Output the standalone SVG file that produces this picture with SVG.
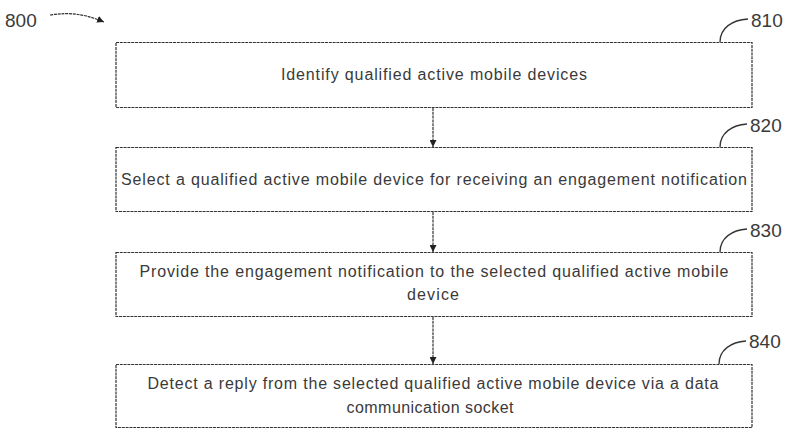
<svg xmlns="http://www.w3.org/2000/svg" width="788" height="429" viewBox="0 0 788 429">
<style>
.box{fill:#fff;stroke:#333;stroke-width:1.2;stroke-dasharray:3 0.8}
.t{font-family:"Liberation Sans",Arial,sans-serif;font-size:16px;fill:#3a3a3a;text-anchor:middle}
.lbl{font-family:"Liberation Sans",Arial,sans-serif;font-size:19px;fill:#3a3a3a}
.con{fill:none;stroke:#333;stroke-width:1.2;stroke-dasharray:3 0.8}
.lead{fill:none;stroke:#333;stroke-width:1.3}
</style>
<defs>
<marker id="ah" viewBox="0 0 10 10" refX="10" refY="5" markerWidth="7" markerHeight="7" orient="auto" markerUnits="userSpaceOnUse">
<path d="M0,0 L10,5 L0,10 z" fill="#222"/>
</marker>
</defs>
<g id="label800">
<text class="lbl" x="5" y="27">800</text>
<path class="con" d="M50,15 C70,12 85,14 104,22" marker-end="url(#ah)"/>
</g>
<g id="connectors">
<line class="con" x1="433" y1="108" x2="433" y2="147" marker-end="url(#ah)"/>
<line class="con" x1="433" y1="212" x2="433" y2="252" marker-end="url(#ah)"/>
<line class="con" x1="433" y1="317" x2="433" y2="364" marker-end="url(#ah)"/>
</g>
<g id="n810">
<rect class="box" x="116" y="42.5" width="636" height="65"/>
<text class="t" x="434" y="80" textLength="306" lengthAdjust="spacing">Identify qualified active mobile devices</text>
<path class="lead" d="M720,42 C720,28 732,20 748,19"/>
<text class="lbl" x="751" y="27">810</text>
</g>
<g id="n820">
<rect class="box" x="116" y="147.5" width="636" height="64"/>
<text class="t" x="434" y="185" textLength="626" lengthAdjust="spacing">Select a qualified active mobile device for receiving an engagement notification</text>
<path class="lead" d="M720,147 C720,133 732,125 747,124"/>
<text class="lbl" x="750" y="132">820</text>
</g>
<g id="n830">
<rect class="box" x="116" y="252.5" width="636" height="64"/>
<text class="t" x="434" y="277" textLength="589" lengthAdjust="spacing">Provide the engagement notification to the selected qualified active mobile</text>
<text class="t" x="433" y="300" textLength="52" lengthAdjust="spacing">device</text>
<path class="lead" d="M720,252 C720,238 732,230 747,229"/>
<text class="lbl" x="750" y="237">830</text>
</g>
<g id="n840">
<rect class="box" x="116" y="364.5" width="636" height="63"/>
<text class="t" x="433" y="389" textLength="571" lengthAdjust="spacing">Detect a reply from the selected qualified active mobile device via a data</text>
<text class="t" x="430" y="413" textLength="167" lengthAdjust="spacing">communication socket</text>
<path class="lead" d="M719,364 C719,350 731,342 746,341"/>
<text class="lbl" x="749" y="348">840</text>
</g>
</svg>
